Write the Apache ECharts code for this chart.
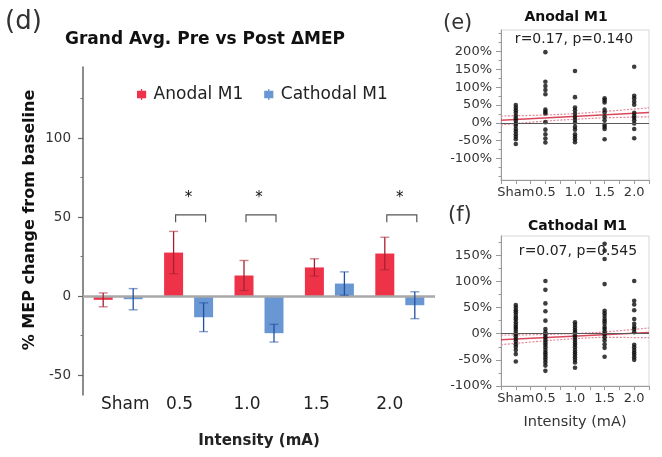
<!DOCTYPE html>
<html>
<head>
<meta charset="utf-8">
<script src="https://cdn.jsdelivr.net/npm/echarts@6/dist/echarts.min.js"></script>
<style>
  html, body { margin: 0; padding: 0; background: #fff; }
  #c { width: 662px; height: 457px; }
</style>
</head>
<body>
<div id="c"></div>
<script>
// ---- Grand average bars (% change from baseline) ----
const categories = ['Sham', '0.5', '1.0', '1.5', '2.0'];
const anodalMean = [-2.3, 27.6, 13.1, 18.2, 27.0];
const anodalErr = [4.4, 13.4, 9.5, 5.5, 10.3];
const cathodalMean = [-1.9, -13.3, -23.4, 8.0, -5.7];
const cathodalErr = [6.7, 9.1, 5.6, 7.4, 8.5];

// significant anodal vs cathodal comparisons
const sigCats = [1, 2, 4];
const sigTop = 51.5;
const sigLeg = 46.8;
const sigStar = 62;

// ---- Individual subjects, anodal M1 (% change) ----
const scatterTicks = ['Sham', '0.5', '1.0', '1.5', '2.0'];
const anoSham = [50, 42, 35, 28, 20, 13, 6, -2, -8, -17, -24, -32, -39, -46, -59];
const ano05 = [198, 115, 103, 92, 80, 37, 31, 26, 2, -19, -32, -44, -55];
const ano10 = [145, 72, 43, 35, 26, 17, 9, 0, -11, -19, -32, -39, -46, -54];
const ano15 = [69, 63, 57, 37, 29, 17, 7, -5, -11, -17, -46];
const ano20 = [157, 76, 69, 60, 51, 28, 20, 14, 7, -2, -17, -43];
const anoFitX = [-0.5, 4.5];
const anoFit = [7, 29];
const anoCiX = [-0.5, 1, 2, 3, 4.5];
const anoCiHi = [19, 22, 26, 32, 42];
const anoCiLo = [-6, 5, 10, 14, 17];

// ---- Individual subjects, cathodal M1 (% change) ----
const catSham = [55, 50, 45, 41, 36, 31, 27, 22, 17, 13, 9, 4, -1, -5, -10, -15, -20, -25, -31, -39, -53];
const cat05 = [101, 84, 58, 43, 25, 9, 3, -2, -7, -12, -17, -21, -26, -31, -36, -40, -45, -50, -55, -61, -71];
const cat10 = [22, 17, 12, 7, 3, -3, -7, -12, -17, -21, -26, -31, -36, -40, -45, -50, -55, -65];
const cat15 = [172, 159, 143, 95, 44, 39, 34, 28, 24, 19, 13, 9, 4, -1, -7, -13, -20, -27, -44];
const cat20 = [101, 63, 56, 45, 28, 19, 13, 9, 3, -21, -26, -31, -36, -40, -45, -50];
const catFitX = [-0.5, 4.5];
const catFit = [-11.5, 2.5];
const catCiX = [-0.5, 1, 2, 3, 4.5];
const catCiHi = [-2.5, -1.5, 0.5, 3.5, 11];
const catCiLo = [-21, -13.5, -9.5, -7, -7.5];

// ---- styling ----
const FONT = 'DejaVu Sans';
const RED = '#ee3349';
const BLUE = '#6897d3';
const RED_DARK = '#a8202f';
const BLUE_DARK = '#1f4fa0';
const BAR_W = 19;
const BAR_GAP = 11;
const HALF = (BAR_W + BAR_GAP) / 2;
// horizontal nudges of the category labels under the bars
const labelShift = [7, -9, -12, -13, -10];

const chart = echarts.init(document.getElementById('c'));

function pairs(xs, ys) { return xs.map((x, i) => [x, ys[i]]); }
function columns(cols) {
  const out = [];
  cols.forEach((vals, i) => vals.forEach(v => out.push([i, v])));
  return out;
}

function errorBars(name, means, errs, offset, color) {
  return {
    type: 'custom', name: name, xAxisIndex: 0, yAxisIndex: 0, z: 6, silent: true,
    data: means.map((m, i) => [i, m - errs[i], m + errs[i]]),
    renderItem: function (params, api) {
      const lo = api.coord([api.value(0), api.value(1)]);
      const hi = api.coord([api.value(0), api.value(2)]);
      const x = lo[0] + offset;
      const cap = 4.5;
      return {
        type: 'group', children: [
          { type: 'line', shape: { x1: x, y1: hi[1], x2: x, y2: lo[1] }, style: { stroke: color, lineWidth: 1.3 } },
          { type: 'line', shape: { x1: x - cap, y1: hi[1], x2: x + cap, y2: hi[1] }, style: { stroke: color, lineWidth: 1.4, opacity: 0.55 } },
          { type: 'line', shape: { x1: x - cap, y1: lo[1], x2: x + cap, y2: lo[1] }, style: { stroke: color, lineWidth: 1.4, opacity: 0.55 } }
        ]
      };
    }
  };
}

const rich = {};
labelShift.forEach((s, i) => {
  rich['s' + i] = {
    fontFamily: FONT, fontSize: 17, color: '#222',
    padding: s >= 0 ? [0, 0, 0, 2 * s] : [0, -2 * s, 0, 0]
  };
});

function scatterAxes(gridIndex, yMin, yMax, major, minor, withName) {
  const axisColor = '#9a9a9a';
  const x = {
    type: 'value', gridIndex: gridIndex, min: -0.5, max: 4.5, position: 'bottom',
    axisLine: { show: true, onZero: false, lineStyle: { color: axisColor, width: 1 } },
    axisTick: { show: true, length: 4, lineStyle: { color: axisColor },
      customValues: [-0.5, 0, 0.5, 1, 1.5, 2, 2.5, 3, 3.5, 4, 4.5] },
    axisLabel: { margin: 6, fontFamily: FONT, fontSize: 13, color: '#333',
      customValues: [0, 1, 2, 3, 4], formatter: v => scatterTicks[Math.round(v)] },
    splitLine: { show: false }
  };
  if (withName) {
    Object.assign(x, {
      name: 'Intensity (mA)', nameLocation: 'middle', nameGap: 29,
      nameTextStyle: { fontFamily: FONT, fontSize: 14.5, color: '#333' }
    });
  }
  const y = {
    type: 'value', gridIndex: gridIndex, min: yMin, max: yMax, position: 'left',
    axisLine: { show: true, onZero: false, lineStyle: { color: axisColor, width: 1 } },
    axisTick: { show: true, length: 5, lineStyle: { color: axisColor }, customValues: major },
    axisLabel: { margin: 9, fontFamily: FONT, fontSize: 13, color: '#333',
      customValues: major, formatter: v => v + '%' },
    splitLine: { show: false }
  };
  const yMinor = {
    type: 'value', gridIndex: gridIndex, min: yMin, max: yMax, position: 'left',
    axisLine: { show: false, onZero: false },
    axisTick: { show: true, length: 2.5, lineStyle: { color: axisColor }, customValues: minor },
    axisLabel: { show: false },
    splitLine: { show: false }
  };
  return { x: x, y: y, yMinor: yMinor };
}

const eAx = scatterAxes(1, -160, 260,
  [-100, -50, 0, 50, 100, 150, 200],
  [-150, -125, -75, -25, 25, 75, 125, 175, 225, 250], false);
const fAx = scatterAxes(2, -100, 187,
  [-100, -50, 0, 50, 100, 150],
  [-75, -25, 25, 75, 125, 175], true);

function scatterSeries(xIdx, yIdx, pts) {
  return {
    type: 'scatter', xAxisIndex: xIdx, yAxisIndex: yIdx, data: pts,
    symbolSize: 4.6, itemStyle: { color: '#0d0d0d' }, z: 4, silent: true
  };
}
function fitSeries(xIdx, yIdx, pts, dotted) {
  return {
    type: 'line', xAxisIndex: xIdx, yAxisIndex: yIdx, data: pts, smooth: dotted ? 0.4 : false,
    showSymbol: false, silent: true, z: 3,
    lineStyle: dotted ? { color: '#e3899a', width: 1.2, type: [2, 1.5] } : { color: '#d8465a', width: 1.5 }
  };
}
function zeroLine(xIdx, yIdx) {
  return {
    type: 'line', xAxisIndex: xIdx, yAxisIndex: yIdx, data: [], silent: true,
    markLine: { silent: true, symbol: 'none', label: { show: false }, animation: false,
      lineStyle: { color: '#5a5a5a', width: 1.2, type: 'solid' }, data: [{ yAxis: 0 }] }
  };
}

const option = {
  animation: false,
  backgroundColor: '#fff',
  textStyle: { fontFamily: FONT },
  legend: {
    data: ['Anodal M1', 'Cathodal M1'],
    left: 132, top: 81,
    itemWidth: 10, itemHeight: 11, itemGap: 21,
    icon: 'path://M0,2H10V10H0Z M4.3,0H5.7V12H4.3Z',
    textStyle: { fontFamily: FONT, fontSize: 17, color: '#222', padding: [0, 0, 0, 2] }
  },
  grid: [
    { left: 83, top: 67, width: 352, height: 328 },
    { left: 501, top: 30, width: 148, height: 150, show: true, borderColor: '#d6d6d6', borderWidth: 1 },
    { left: 501, top: 236, width: 148, height: 150, show: true, borderColor: '#d6d6d6', borderWidth: 1 }
  ],
  xAxis: [
    {
      type: 'category', gridIndex: 0, data: categories, position: 'bottom',
      axisLine: { show: false, onZero: false }, axisTick: { show: false },
      axisLabel: { margin: 1, interval: 0, hideOverlap: false,
        formatter: (v, i) => '{s' + i + '|' + v + '}', rich: rich },
      name: 'Intensity (mA)', nameLocation: 'middle', nameGap: 39,
      nameTextStyle: { fontFamily: FONT, fontSize: 15, fontWeight: 'bold', color: '#222' }
    },
    eAx.x, fAx.x
  ],
  yAxis: [
    {
      type: 'value', gridIndex: 0, min: -62.5, max: 145, position: 'left',
      axisLine: { show: true, onZero: false, lineStyle: { color: '#666', width: 1.5 } },
      axisTick: { show: true, length: 5, lineStyle: { color: '#666', width: 1.2 }, customValues: [-50, 0, 50, 100] },
      axisLabel: { margin: 12, fontFamily: FONT, fontSize: 13.5, color: '#333', customValues: [-50, 0, 50, 100] },
      splitLine: { show: false }
    },
    {
      type: 'value', gridIndex: 0, min: -62.5, max: 145, position: 'left',
      axisLine: { show: false, onZero: false },
      axisTick: { show: true, length: 2.5, lineStyle: { color: '#777', width: 1 }, customValues: [-25, 25, 75, 125] },
      axisLabel: { show: false }, splitLine: { show: false }
    },
    eAx.y, eAx.yMinor, fAx.y, fAx.yMinor
  ],
  graphic: [
    { type: 'text', x: 5, y: 22, style: { text: '(d)', font: '26px "DejaVu Sans"', fill: '#333', textVerticalAlign: 'middle' } },
    { type: 'text', x: 65, y: 40, style: { text: 'Grand Avg. Pre vs Post ΔMEP', font: 'bold 17px "DejaVu Sans"', fill: '#111', textVerticalAlign: 'middle' } },
    { type: 'text', x: 30, y: 220, rotation: Math.PI / 2,
      style: { text: '% MEP change from baseline', font: 'bold 16px "DejaVu Sans"', fill: '#111', textAlign: 'center', textVerticalAlign: 'middle' } },
    { type: 'text', x: 443, y: 24, style: { text: '(e)', font: '21px "DejaVu Sans"', fill: '#333', textVerticalAlign: 'middle' } },
    { type: 'text', x: 566, y: 17.5, style: { text: 'Anodal M1', font: 'bold 14px "DejaVu Sans"', fill: '#111', textAlign: 'center', textVerticalAlign: 'middle' } },
    { type: 'text', x: 574, y: 39, z: 10, style: { text: 'r=0.17, p=0.140', font: '14px "DejaVu Sans"', fill: '#222', textAlign: 'center', textVerticalAlign: 'middle' } },
    { type: 'text', x: 448, y: 216, style: { text: '(f)', font: '21px "DejaVu Sans"', fill: '#333', textVerticalAlign: 'middle' } },
    { type: 'text', x: 577.5, y: 226, style: { text: 'Cathodal M1', font: 'bold 14px "DejaVu Sans"', fill: '#111', textAlign: 'center', textVerticalAlign: 'middle' } },
    { type: 'text', x: 578, y: 251, z: 10, style: { text: 'r=0.07, p=0.545', font: '14px "DejaVu Sans"', fill: '#222', textAlign: 'center', textVerticalAlign: 'middle' } }
  ],
  series: [
    {
      type: 'bar', name: 'Anodal M1', xAxisIndex: 0, yAxisIndex: 0, data: anodalMean,
      barWidth: BAR_W, barGap: (BAR_GAP / BAR_W * 100) + '%',
      itemStyle: { color: RED }, silent: true,
      markLine: {
        silent: true, symbol: 'none', label: { show: false }, z: 5,
        lineStyle: { color: '#a8a8a8', width: 2.5, type: 'solid' },
        data: [{ yAxis: 0 }]
      }
    },
    {
      type: 'bar', name: 'Cathodal M1', xAxisIndex: 0, yAxisIndex: 0, data: cathodalMean,
      barWidth: BAR_W, barGap: (BAR_GAP / BAR_W * 100) + '%',
      itemStyle: { color: BLUE }, silent: true
    },
    errorBars('anodal error', anodalMean, anodalErr, -HALF, RED_DARK),
    errorBars('cathodal error', cathodalMean, cathodalErr, HALF, BLUE_DARK),
    {
      type: 'custom', name: 'significance', xAxisIndex: 0, yAxisIndex: 0, z: 7, silent: true,
      data: sigCats.map(i => [i, sigTop, sigLeg, sigStar]),
      renderItem: function (params, api) {
        const top = api.coord([api.value(0), api.value(1)]);
        const leg = api.coord([api.value(0), api.value(2)]);
        const star = api.coord([api.value(0), api.value(3)]);
        const x1 = top[0] - HALF + 2;
        const x2 = top[0] + HALF + 2;
        return {
          type: 'group', children: [
            { type: 'polyline', shape: { points: [[x1, leg[1]], [x1, top[1]], [x2, top[1]], [x2, leg[1]]] },
              style: { stroke: '#555', lineWidth: 1.2, fill: null } },
            { type: 'text', x: top[0], y: star[1],
              style: { text: '*', font: '15px "DejaVu Sans"', fill: '#111', textAlign: 'center', textVerticalAlign: 'middle' } }
          ]
        };
      }
    },
    // panel (e)
    zeroLine(1, 2),
    fitSeries(1, 2, pairs(anoCiX, anoCiHi), true),
    fitSeries(1, 2, pairs(anoCiX, anoCiLo), true),
    fitSeries(1, 2, pairs(anoFitX, anoFit), false),
    scatterSeries(1, 2, columns([anoSham, ano05, ano10, ano15, ano20])),
    // panel (f)
    zeroLine(2, 4),
    fitSeries(2, 4, pairs(catCiX, catCiHi), true),
    fitSeries(2, 4, pairs(catCiX, catCiLo), true),
    fitSeries(2, 4, pairs(catFitX, catFit), false),
    scatterSeries(2, 4, columns([catSham, cat05, cat10, cat15, cat20]))
  ]
};

chart.setOption(option);
</script>
</body>
</html>
